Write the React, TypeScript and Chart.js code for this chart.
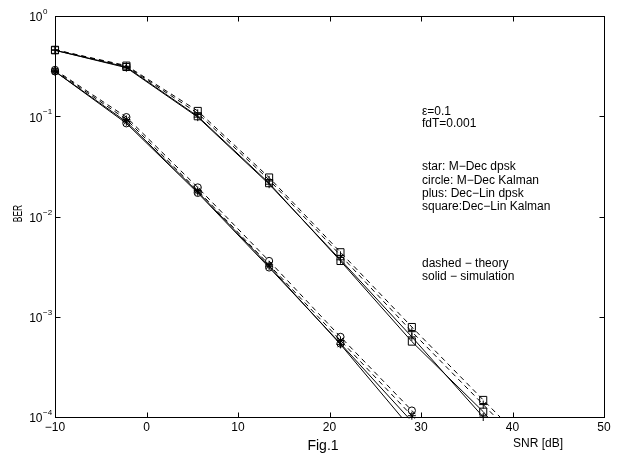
import React, { useEffect, useRef } from "react";
import { Chart, registerables } from "chart.js";

Chart.register(...registerables);

// SNR [dB] sample points
const snr = [-10, -2.2, 5.6, 13.4, 21.2, 29, 36.8, 44.6];

// Dec-Lin (upper group)
const squareTheory = [0.46, 0.32, 0.113, 0.0245, 0.0044, 7.9e-4, 1.48e-4, 2.8e-5];
const plusTheory = [0.46, 0.315, 0.107, 0.0232, 0.0041, 7.1e-4, 1.33e-4, 2.5e-5];
const squareSim = [0.455, 0.31, 0.1, 0.0215, 0.0036, 5.65e-4, 1.13e-4, 1.6e-5];
const plusSim = [0.455, 0.305, 0.098, 0.021, 0.0037, 6.3e-4, 1.0e-4, 1.4e-5];

// M-Dec (lower group)
const circleTheory = [0.29, 0.098, 0.0195, 0.0036, 6.3e-4, 1.16e-4, 2.1e-5, null];
const starTheory = [0.285, 0.093, 0.0182, 0.0033, 5.8e-4, 1.03e-4, 1.8e-5, null];
const circleSim = [0.28, 0.085, 0.0172, 0.0031, 5.4e-4, 9.0e-5, 1.2e-5, null];
const starSim = [0.28, 0.088, 0.0176, 0.0032, 5.3e-4, 7.5e-5, 9e-6, null];

const xTicks = [-10, 0, 10, 20, 30, 40, 50];
const yTickExponents = [0, -1, -2, -3, -4];

const paramLines = ["\u03b5=0.1", "fdT=0.001"];
const markerLines = [
  "star: M\u2212Dec dpsk",
  "circle: M\u2212Dec Kalman",
  "plus: Dec\u2212Lin dpsk",
  "square:Dec\u2212Lin Kalman",
];
const styleLines = ["dashed \u2212 theory", "solid \u2212 simulation"];

const FONT = "'Liberation Sans', Arial, Helvetica, sans-serif";

type Series = { values: (number | null)[]; dashed: boolean; marker: string; radius: number };

const series: Series[] = [
  { values: squareTheory, dashed: true, marker: "rect", radius: 5 },
  { values: plusTheory, dashed: true, marker: "cross", radius: 4 },
  { values: squareSim, dashed: false, marker: "rect", radius: 5 },
  { values: plusSim, dashed: false, marker: "cross", radius: 4 },
  { values: circleTheory, dashed: true, marker: "circle", radius: 3.6 },
  { values: starTheory, dashed: true, marker: "star", radius: 4 },
  { values: circleSim, dashed: false, marker: "circle", radius: 3.6 },
  { values: starSim, dashed: false, marker: "star", radius: 4 },
];

const frameText = {
  id: "frameText",
  afterDraw(chart: any) {
    const { ctx, chartArea } = chart;
    const xs = chart.scales.x;
    const ys = chart.scales.y;
    const L = Math.round(chartArea.left) + 0.5;
    const R = Math.round(chartArea.right) + 0.5;
    const T = Math.round(chartArea.top) + 0.5;
    const B = Math.round(chartArea.bottom) + 0.5;
    ctx.save();
    ctx.strokeStyle = "#000";
    ctx.lineWidth = 1;
    ctx.setLineDash([]);
    ctx.strokeRect(L, T, R - L, B - T);
    const tl = 5;
    ctx.beginPath();
    for (const v of xTicks) {
      const px = Math.round(xs.getPixelForValue(v)) + 0.5;
      ctx.moveTo(px, B);
      ctx.lineTo(px, B - tl);
      ctx.moveTo(px, T);
      ctx.lineTo(px, T + tl);
    }
    for (const e of yTickExponents) {
      const py = Math.round(ys.getPixelForValue(Math.pow(10, e))) + 0.5;
      ctx.moveTo(L, py);
      ctx.lineTo(L + tl, py);
      ctx.moveTo(R, py);
      ctx.lineTo(R - tl, py);
    }
    ctx.stroke();

    ctx.fillStyle = "#000";
    // x tick labels
    ctx.font = `12px ${FONT}`;
    ctx.textAlign = "center";
    ctx.textBaseline = "middle";
    for (const v of xTicks) {
      const px = xs.getPixelForValue(v);
      const label = v < 0 ? "\u2212" + Math.abs(v) : String(v);
      ctx.fillText(label, px, B + 10.5);
    }
    // y tick labels
    for (const e of yTickExponents) {
      const py = ys.getPixelForValue(Math.pow(10, e));
      ctx.font = `12px ${FONT}`;
      ctx.textAlign = "right";
      ctx.textBaseline = "middle";
      ctx.fillText("10", 42.5, py + 2);
      ctx.font = `8px ${FONT}`;
      ctx.textAlign = "left";
      const ex = e < 0 ? "\u2212" + Math.abs(e) : String(e);
      ctx.fillText(ex, 43, py - 4);
    }
    // axis labels
    ctx.font = `12px ${FONT}`;
    ctx.textAlign = "center";
    ctx.textBaseline = "middle";
    ctx.fillText("SNR [dB]", 538, 444);
    ctx.font = `14px ${FONT}`;
    ctx.fillText("Fig.1", 323, 446);
    ctx.save();
    ctx.translate(19, 213.5);
    ctx.rotate(-Math.PI / 2);
    ctx.scale(0.7, 1);
    ctx.font = `12px ${FONT}`;
    ctx.fillText("BER", 0, 0);
    ctx.restore();

    // annotations
    ctx.font = `12px ${FONT}`;
    ctx.textAlign = "left";
    ctx.textBaseline = "middle";
    paramLines.forEach((t, i) => ctx.fillText(t, 422, 111.5 + i * 12.5));
    markerLines.forEach((t, i) => ctx.fillText(t, 422, 167 + i * 13.3));
    styleLines.forEach((t, i) => ctx.fillText(t, 422, 263.5 + i * 13));
    ctx.restore();
  },
};

export default function App() {
  const ref = useRef<HTMLCanvasElement | null>(null);
  useEffect(() => {
    if (!ref.current) return;
    const lineSets = series.map((s) => ({
      data: snr.map((x, i) => ({ x, y: s.values[i] })),
      borderColor: "#000",
      borderWidth: 1,
      borderDash: s.dashed ? [5, 4] : [],
      pointRadius: 0,
      fill: false,
      tension: 0,
      spanGaps: false,
      clip: 0,
    }));
    const markerSets = series.map((s) => ({
      data: snr
        .map((x, i) => ({ x, y: s.values[i] }))
        .filter((p) => p.y !== null && (p.y as number) >= 0.999e-4 && p.x <= 50),
      showLine: false,
      borderColor: "#000",
      pointBorderColor: "#000",
      pointBackgroundColor: "rgba(0,0,0,0)",
      pointBorderWidth: 1,
      pointStyle: s.marker,
      pointRadius: s.radius,
      clip: false,
    }));
    const chart = new Chart(ref.current, {
      type: "line",
      data: { datasets: [...lineSets, ...markerSets] as any },
      options: {
        animation: false,
        responsive: false,
        devicePixelRatio: 1,
        events: [],
        layout: { padding: { left: 55, right: 17, top: 16, bottom: 39 } },
        plugins: { legend: { display: false }, tooltip: { enabled: false } },
        scales: {
          x: { type: "linear", min: -10, max: 50, display: false },
          y: { type: "logarithmic", min: 1e-4, max: 1, display: false },
        },
      },
      plugins: [frameText],
    });
    return () => chart.destroy();
  }, []);
  return (
    <div style={{ position: "absolute", left: 0, top: 0, width: 621, height: 456, background: "#fff" }}>
      <canvas ref={ref} width={621} height={456} style={{ display: "block" }} />
    </div>
  );
}
